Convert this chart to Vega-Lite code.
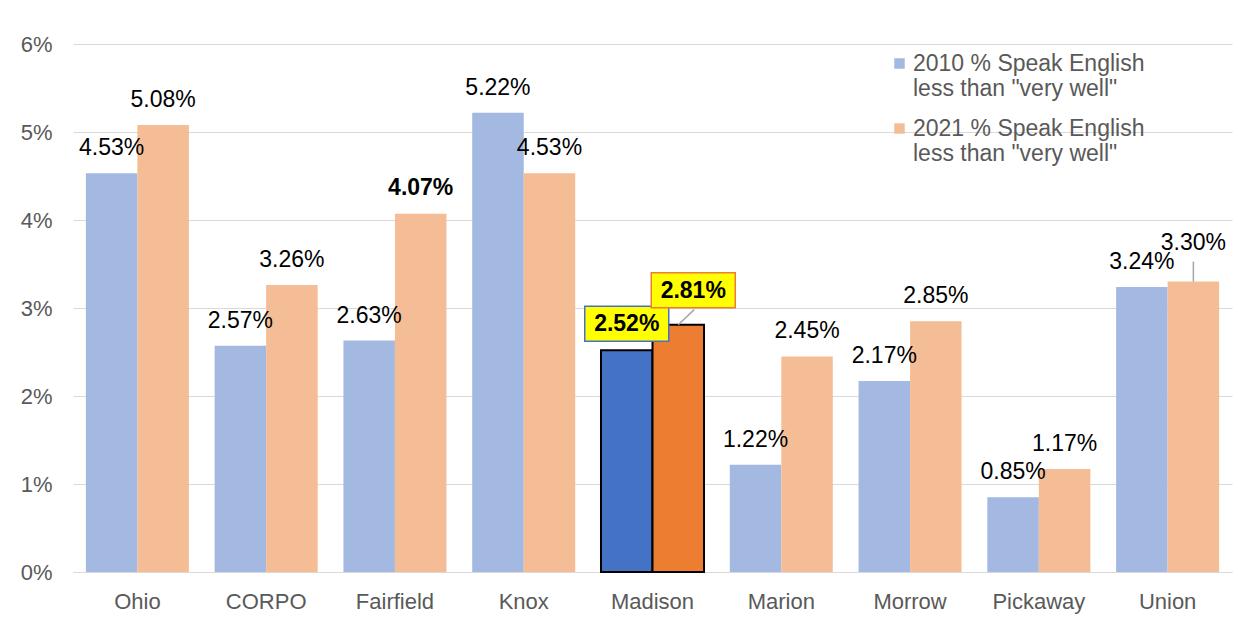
{
  "$schema": "https://vega.github.io/schema/vega-lite/v6.json",
  "autosize": {"type": "none"},
  "width": 1159,
  "height": 528,
  "padding": {"left": 73, "top": 44, "right": 20, "bottom": 71},
  "background": "white",
  "config": {
    "view": {"stroke": null},
    "font": "Liberation Sans",
    "text": {"font": "Liberation Sans"}
  },
  "data": {
    "values": [
      {"county": "Ohio", "series": "2010", "value": 0.0453},
      {"county": "Ohio", "series": "2021", "value": 0.0508},
      {"county": "CORPO", "series": "2010", "value": 0.0257},
      {"county": "CORPO", "series": "2021", "value": 0.0326},
      {"county": "Fairfield", "series": "2010", "value": 0.0263},
      {"county": "Fairfield", "series": "2021", "value": 0.0407},
      {"county": "Knox", "series": "2010", "value": 0.0522},
      {"county": "Knox", "series": "2021", "value": 0.0453},
      {"county": "Madison", "series": "2010", "value": 0.0252},
      {"county": "Madison", "series": "2021", "value": 0.0281},
      {"county": "Marion", "series": "2010", "value": 0.0122},
      {"county": "Marion", "series": "2021", "value": 0.0245},
      {"county": "Morrow", "series": "2010", "value": 0.0217},
      {"county": "Morrow", "series": "2021", "value": 0.0285},
      {"county": "Pickaway", "series": "2010", "value": 0.0085},
      {"county": "Pickaway", "series": "2021", "value": 0.0117},
      {"county": "Union", "series": "2010", "value": 0.0324},
      {"county": "Union", "series": "2021", "value": 0.0330}
    ]
  },
  "encoding": {
    "x": {
      "field": "county", "type": "nominal", "sort": null,
      "scale": {"domain": ["Ohio","CORPO","Fairfield","Knox","Madison","Marion","Morrow","Pickaway","Union"], "paddingInner": 0.2, "paddingOuter": 0.1},
      "axis": {"title": null, "labelAngle": 0, "ticks": false, "domainColor": "#D9D9D9", "domainWidth": 1, "labelPadding": 19, "labelFontSize": 22, "labelColor": "#595959", "labelFont": "Liberation Sans"}
    },
    "xOffset": {"field": "series", "type": "nominal", "scale": {"domain": ["2010", "2021"], "paddingInner": 0, "paddingOuter": 0}},
    "y": {
      "field": "value", "type": "quantitative",
      "scale": {"domain": [0, 0.06], "nice": false},
      "axis": {"title": null, "format": ".0%", "values": [0,0.01,0.02,0.03,0.04,0.05,0.06], "domain": false, "ticks": false, "gridColor": "#D9D9D9", "gridWidth": 1, "labelPadding": 21, "labelFontSize": 22, "labelColor": "#595959", "labelFont": "Liberation Sans"}
    }
  },
  "layer": [
    {
      "transform": [{"filter": "datum.county !== 'Madison'"}],
      "mark": {"type": "bar"},
      "encoding": {
        "color": {
          "field": "series", "type": "nominal",
          "scale": {"domain": ["2010", "2021"], "range": ["#A4B9E2", "#F5BD96"]},
          "legend": {
            "title": null, "orient": "none", "legendX": 815, "legendY": 8,
            "symbolType": "square", "symbolSize": 110, "symbolStrokeWidth": 0,
            "labelFontSize": 23, "labelColor": "#595959", "labelFont": "Liberation Sans",
            "labelLimit": 0, "labelOffset": 2, "labelLineHeight": 27, "rowPadding": 16, "padding": 0,
            "labelExpr": "[datum.label + ' % Speak English', 'less than \"very well\"']"
          }
        }
      }
    },
    {
      "transform": [{"filter": "datum.county === 'Madison'"}],
      "mark": {"type": "bar", "stroke": "black", "strokeWidth": 2},
      "encoding": {
        "color": {
          "field": "series", "type": "nominal",
          "scale": {"domain": ["2010", "2021"], "range": ["#4472C4", "#ED7D31"]},
          "legend": null
        }
      }
    },
    {
      "transform": [{"filter": "datum.county !== 'Madison' && !(datum.county === 'Union' && datum.series === '2021') && !(datum.county === 'Fairfield' && datum.series === '2021')"}],
      "mark": {"type": "text", "dy": -25, "fontSize": 23, "color": "#000000", "baseline": "middle"},
      "encoding": {"text": {"field": "value", "type": "quantitative", "format": ".2%"}}
    },
    {
      "transform": [{"filter": "datum.county === 'Fairfield' && datum.series === '2021'"}],
      "mark": {"type": "text", "dy": -26, "fontSize": 23, "fontWeight": "bold", "color": "#000000", "baseline": "middle"},
      "encoding": {"text": {"field": "value", "type": "quantitative", "format": ".2%"}}
    },
    {
      "transform": [{"filter": "datum.county === 'Union' && datum.series === '2021'"}],
      "mark": {"type": "text", "dy": -39, "fontSize": 23, "color": "#000000", "baseline": "middle"},
      "encoding": {"text": {"field": "value", "type": "quantitative", "format": ".2%"}}
    },
    {
      "transform": [{"filter": "datum.county === 'Union' && datum.series === '2021'"}],
      "mark": {"type": "point", "shape": "M0,0 L0,-0.476", "size": 7056, "filled": false, "stroke": "#A6A6A6", "strokeWidth": 1.5, "opacity": 1},
      "encoding": {}
    },
    {
      "transform": [{"filter": "datum.county === 'Madison' && datum.series === '2021'"}],
      "mark": {"type": "point", "shape": "M0,0 L0.38,-0.36", "size": 7056, "filled": false, "stroke": "#A6A6A6", "strokeWidth": 1.5, "opacity": 1},
      "encoding": {}
    },
    {
      "transform": [{"filter": "datum.county === 'Madison' && datum.series === '2010'"}],
      "mark": {"type": "point", "shape": "M-1,-1.048 L1,-1.048 L1,-0.214 L-1,-0.214 Z", "size": 7056, "filled": true, "fill": "#FFFF00", "stroke": "#4472C4", "strokeWidth": 1.5, "opacity": 1},
      "encoding": {}
    },
    {
      "transform": [{"filter": "datum.county === 'Madison' && datum.series === '2021'"}],
      "mark": {"type": "point", "shape": "M-0.643,-1.238 L1.357,-1.238 L1.357,-0.405 L-0.643,-0.405 Z", "size": 7056, "filled": true, "fill": "#FFFF00", "stroke": "#ED7D31", "strokeWidth": 1.5, "opacity": 1},
      "encoding": {}
    },
    {
      "transform": [{"filter": "datum.county === 'Madison' && datum.series === '2010'"}],
      "mark": {"type": "text", "dy": -26, "fontSize": 23, "fontWeight": "bold", "color": "#000000", "baseline": "middle"},
      "encoding": {"text": {"field": "value", "type": "quantitative", "format": ".2%"}}
    },
    {
      "transform": [{"filter": "datum.county === 'Madison' && datum.series === '2021'"}],
      "mark": {"type": "text", "dx": 15, "dy": -34, "fontSize": 23, "fontWeight": "bold", "color": "#000000", "baseline": "middle"},
      "encoding": {"text": {"field": "value", "type": "quantitative", "format": ".2%"}}
    }
  ],
  "resolve": {"scale": {"color": "independent"}}
}
